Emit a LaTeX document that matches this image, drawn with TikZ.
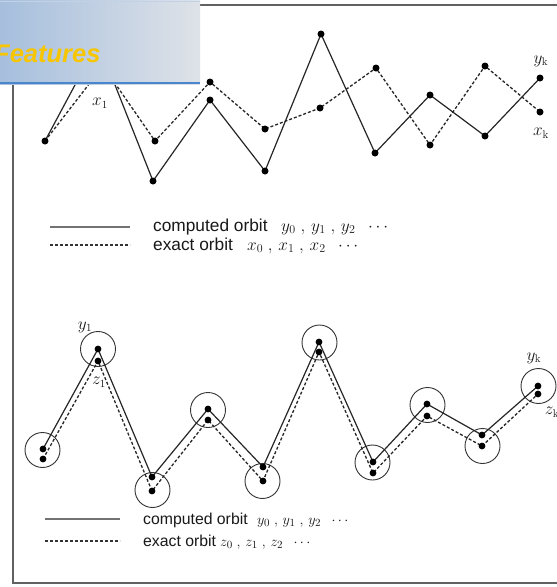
\documentclass[tikz,border=0pt]{standalone}
\usepackage{fontspec}
\newfontfamily\lsans{Liberation Sans}
\definecolor{bannerL}{HTML}{A6BFDD}
\definecolor{bannerR}{HTML}{DEE2E8}
\definecolor{bannerLine}{HTML}{4A86CB}
\definecolor{featYellow}{HTML}{F7C600}
\begin{document}
\begin{tikzpicture}[x=1pt,y=-1pt,
  orb/.style={line width=1.2pt, draw=black!85},
  ex/.style={line width=1.3pt, draw=black!85, dash pattern=on 3pt off 2pt},
  legsolid/.style={line width=1.7pt, draw=black!55},
  legdash/.style={line width=1.2pt, draw=black!80, dash pattern=on 2.5pt off 2.5pt},
  ring/.style={circle, draw=black!80, line width=0.9pt, inner sep=0pt, minimum size=35pt},
  legtxtA/.style={font=\lsans\fontsize{17.3}{19}\selectfont, anchor=base west, inner sep=0pt, text=black!90},
  legtxtB/.style={font=\lsans\fontsize{15.8}{18}\selectfont, anchor=base west, inner sep=0pt, text=black!90},
  mthA/.style={font=\fontsize{17}{19}\selectfont, anchor=base west, inner sep=0pt, text=black!90},
  mthB/.style={font=\fontsize{15.5}{18}\selectfont, anchor=base west, inner sep=0pt, text=black!90},
  lbl/.style={font=\fontsize{16}{18}\selectfont, inner sep=0pt, text=black!90},
  ]
\useasboundingbox (0,0) rectangle (557,587);
\fill[white] (0,0) rectangle (557,587);
% frame
\draw[line width=1.6pt, draw=black!62] (558,5) -- (13,5) -- (13,583) -- (558,583);

% ---------- top chart ----------
\coordinate (p0) at (45,141);
\coordinate (ya) at (98,42);
\coordinate (yb) at (153,181);
\coordinate (yc) at (210,100);
\coordinate (yd) at (265,171);
\coordinate (ye) at (321,34);
\coordinate (yf) at (375,153);
\coordinate (yg) at (430,95);
\coordinate (yh) at (485,136);
\coordinate (yi) at (540,78);
\coordinate (xa) at (103,66);
\coordinate (xb) at (155,141);
\coordinate (xc) at (210,82);
\coordinate (xd) at (265,129);
\coordinate (xe) at (320,108);
\coordinate (xf) at (376,68);
\coordinate (xg) at (430,145);
\coordinate (xh) at (485,66);
\coordinate (xi) at (540,112);

\draw[orb] (p0) -- (ya) -- (yb) -- (yc) -- (yd) -- (ye) -- (yf) -- (yg) -- (yh) -- (yi);
\draw[ex] (p0) -- (xa) -- (xb) -- (xc) -- (xd) -- (xe) -- (xf) -- (xg) -- (xh) -- (xi);
\foreach \p in {p0,ya,yb,yc,yd,ye,yf,yg,yh,yi,xa,xb,xc,xd,xe,xf,xg,xh,xi}
  \fill[black] (\p) circle (3.5);

\node[lbl] (lx1) at (100,103) {$x_1$};
\node[lbl] (lyk) at (541,61) {$y_{\mathrm k}$};
\node[lbl] (lxk) at (541,133) {$x_{\mathrm k}$};

% top legend
\coordinate (la1) at (50,227); \coordinate (la2) at (130,227);
\coordinate (lb1) at (50,245); \coordinate (lb2) at (130,245);
\draw[legsolid] (la1) -- (la2);
\draw[legdash] (lb1) -- (lb2);
\node[legtxtA] (t1) at (153,231) {computed orbit};
\node[mthA] (m1) at (281,231) {$y_0\;,\,y_1\;,\,y_2\;\;\cdots$};
\node[legtxtA] (t2) at (153,250) {exact orbit};
\node[mthA] (m2) at (247,250) {$x_0\;,\,x_1\;,\,x_2\;\;\cdots$};

% ---------- bottom chart ----------
\node[ring] (c1) at (42.5,450) {};
\node[ring] (c2) at (98,349) {};
\node[ring] (c3) at (152.5,490) {};
\node[ring] (c4) at (208,410) {};
\node[ring] (c5) at (262.5,481) {};
\node[ring] (c6) at (319.5,342.5) {};
\node[ring] (c7) at (372.5,462.5) {};
\node[ring] (c8) at (427.5,405) {};
\node[ring] (c9) at (482.5,446) {};
\node[ring] (c10) at (538.5,386) {};

\coordinate (u1) at (43,449);   \coordinate (l1) at (43,459);
\coordinate (u2) at (98,349);   \coordinate (l2) at (98,361);
\coordinate (u3) at (152,477);  \coordinate (l3) at (152,491);
\coordinate (u4) at (208,409);  \coordinate (l4) at (208,420);
\coordinate (u5) at (263,467);  \coordinate (l5) at (263,481);
\coordinate (u6) at (319,342);  \coordinate (l6) at (319,352);
\coordinate (u7) at (373,462);  \coordinate (l7) at (373,473);
\coordinate (u8) at (427,404);  \coordinate (l8) at (427,416);
\coordinate (u9) at (482,435);  \coordinate (l9) at (482,446);
\coordinate (u10) at (538,386); \coordinate (l10) at (538,394);

\draw[orb] (u1) -- (u2) -- (u3) -- (u4) -- (u5) -- (u6) -- (u7) -- (u8) -- (u9) -- (u10);
\draw[ex] (l1) -- (l2) -- (l3) -- (l4) -- (l5) -- (l6) -- (l7) -- (l8) -- (l9) -- (l10);
\foreach \p in {u1,u2,u3,u4,u5,u6,u7,u8,u9,u10,l1,l2,l3,l4,l5,l6,l7,l8,l9,l10}
  \fill[black] (\p) circle (3.4);

\node[lbl] (ly1) at (85,327) {$y_1$};
\node[lbl] (lz1) at (99,382) {$z_1$};
\node[lbl] (lyk2) at (534,358) {$y_{\mathrm k}$};
\node[lbl] (lzk2) at (552,412) {$z_{\mathrm k}$};

% bottom legend
\coordinate (lc1) at (45,519); \coordinate (lc2) at (120,519);
\coordinate (ld1) at (45,541); \coordinate (ld2) at (120,541);
\draw[legsolid] (lc1) -- (lc2);
\draw[legdash] (ld1) -- (ld2);
\node[legtxtB] (t3) at (143,524) {computed orbit};
\node[mthB] (m3) at (257,524) {$y_0\;,\,y_1\;,\,y_2\;\;\cdots$};
\node[legtxtB] (t4) at (143,546) {exact orbit};
\node[mthB] (m4) at (220,546) {$z_0\;,\,z_1\;,\,z_2\;\;\cdots$};

% ---------- banner ----------
\shade[left color=bannerL, right color=bannerR] (0,0) rectangle (200,84);
\draw[line width=1pt, draw=bannerL!70] (0,1) -- (200,1);
\draw[line width=2pt, draw=bannerLine] (0,83) -- (200,83);
\node[font=\lsans\bfseries\itshape\fontsize{25.5}{28}\selectfont, text=featYellow, anchor=base west, inner sep=0pt] (feat) at (-6,62) {Features};
\end{tikzpicture}
\end{document}
